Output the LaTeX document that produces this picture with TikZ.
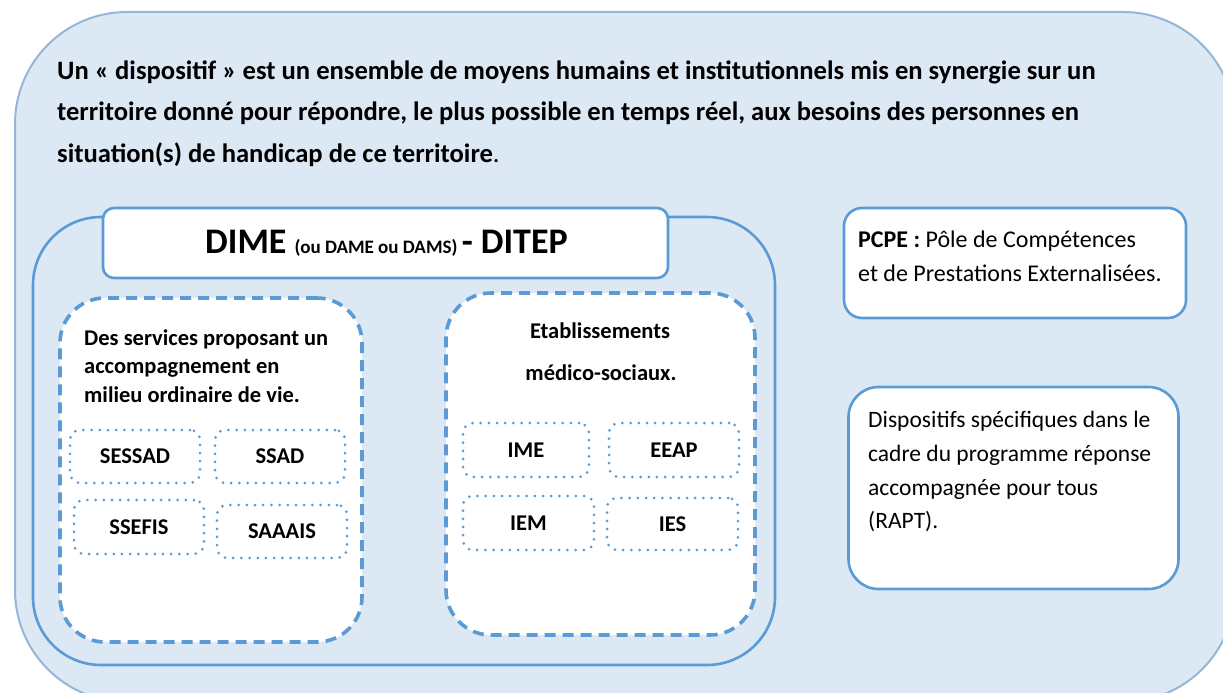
\documentclass[tikz,border=0pt]{standalone}
\usepackage{fontspec}
\setmainfont{Carlito}
\definecolor{bfill}{RGB}{221,232,245}
\definecolor{bline}{RGB}{91,155,213}
\definecolor{oline}{RGB}{150,182,216}
\tikzset{
  box/.style={draw=bline, line width=2.6pt, fill=white, inner sep=0pt},
  dashbox/.style={draw=bline, line width=3.6pt, fill=white, dash pattern=on 11pt off 7pt, rounded corners=45pt, inner sep=0pt},
  dotbox/.style={draw=bline, line width=3pt, line cap=round, dash pattern=on 0pt off 8.2pt, rounded corners=10pt, inner sep=0pt, font=\fontsize{22.5}{26}\selectfont\bfseries},
  para/.style={inner sep=0pt, anchor=base west, font=\fontsize{26.6}{30}\selectfont\bfseries},
  btext/.style={inner sep=0pt, font=\fontsize{22.5}{26}\selectfont\bfseries},
  rtext/.style={inner sep=0pt, anchor=base west, font=\fontsize{23.5}{27}\selectfont},
}
\begin{document}
\begin{tikzpicture}[x=1pt,y=-1pt]
\useasboundingbox (0,0) rectangle (1223,693);
\clip (0,0) rectangle (1223,693);
% outer box
\node[draw=oline, line width=2pt, fill=bfill, rounded corners=112pt, inner sep=0pt,
      minimum width=1220pt, minimum height=690pt] (outer) at (625,357) {};
% paragraph
\node[para] (p1) at (57,79) {Un « dispositif » est un ensemble de moyens humains et institutionnels mis en synergie sur un};
\node[para] (p2) at (57,120) {territoire donné pour répondre, le plus possible en temps réel, aux besoins des personnes en};
\node[para] (p3) at (57,162) {situation(s) de handicap de ce territoire\textmd{.}};
% DIME box
\node[draw=bline, line width=2.6pt, rounded corners=68pt, inner sep=0pt,
      minimum width=742pt, minimum height=448pt] (dime) at (404,441) {};
\node[box, rounded corners=11pt, minimum width=565pt, minimum height=70pt] (title) at (385.5,243) {};
\node[inner sep=0pt, anchor=base] (titletext) at (386.5,253)
  {\bfseries\fontsize{36}{40}\selectfont DIME \fontsize{19}{22}\selectfont(ou DAME ou DAMS) \fontsize{36}{40}\selectfont - DITEP};
% left dashed box
\node[dashbox, minimum width=302pt, minimum height=344pt] (left) at (211,470) {};
\node[btext, anchor=base west] (l1) at (84,345) {Des services proposant un};
\node[btext, anchor=base west] (l2) at (84,373.5) {accompagnement en};
\node[btext, anchor=base west] (l3) at (84,402) {milieu ordinaire de vie.};
\node[dotbox, minimum width=130pt, minimum height=53pt] (sessad) at (135,456.5) {SESSAD};
\node[dotbox, minimum width=130pt, minimum height=53pt] (ssad) at (280,456.5) {SSAD};
\node[dotbox, minimum width=130pt, minimum height=54pt] (ssefis) at (139,527) {SSEFIS};
\node[dotbox, minimum width=130pt, minimum height=53pt] (saaais) at (282,531.5) {SAAAIS};
% right dashed box
\node[dashbox, minimum width=309pt, minimum height=342pt] (right) at (600.5,464) {};
\node[btext, anchor=base] (r1) at (600,338) {Etablissements};
\node[btext, anchor=base] (r2) at (601,380) {médico-sociaux.};
\node[dotbox, minimum width=126pt, minimum height=54pt] (ime) at (526,450) {IME};
\node[dotbox, minimum width=130pt, minimum height=54pt] (eeap) at (674,450) {EEAP};
\node[dotbox, minimum width=131pt, minimum height=54pt] (iem) at (528.5,523) {IEM};
\node[dotbox, minimum width=131pt, minimum height=52pt] (ies) at (672.5,524) {IES};
% PCPE
\node[box, rounded corners=18pt, minimum width=342pt, minimum height=110pt] (pcpe) at (1015,263) {};
\node[rtext, font=\fontsize{24}{27}\selectfont] (pc1) at (858,247) {\textbf{PCPE :} Pôle de Compétences};
\node[rtext, font=\fontsize{24}{27}\selectfont] (pc2) at (858,281) {et de Prestations Externalisées.};
% RAPT
\node[box, rounded corners=30pt, minimum width=330pt, minimum height=202pt] (rapt) at (1013.5,488) {};
\node[rtext] (ra1) at (868,427) {Dispositifs spécifiques dans le};
\node[rtext] (ra2) at (868,461) {cadre du programme réponse};
\node[rtext] (ra3) at (868,495) {accompagnée pour tous};
\node[rtext] (ra4) at (868,528) {(RAPT).};
\end{tikzpicture}
\end{document}
